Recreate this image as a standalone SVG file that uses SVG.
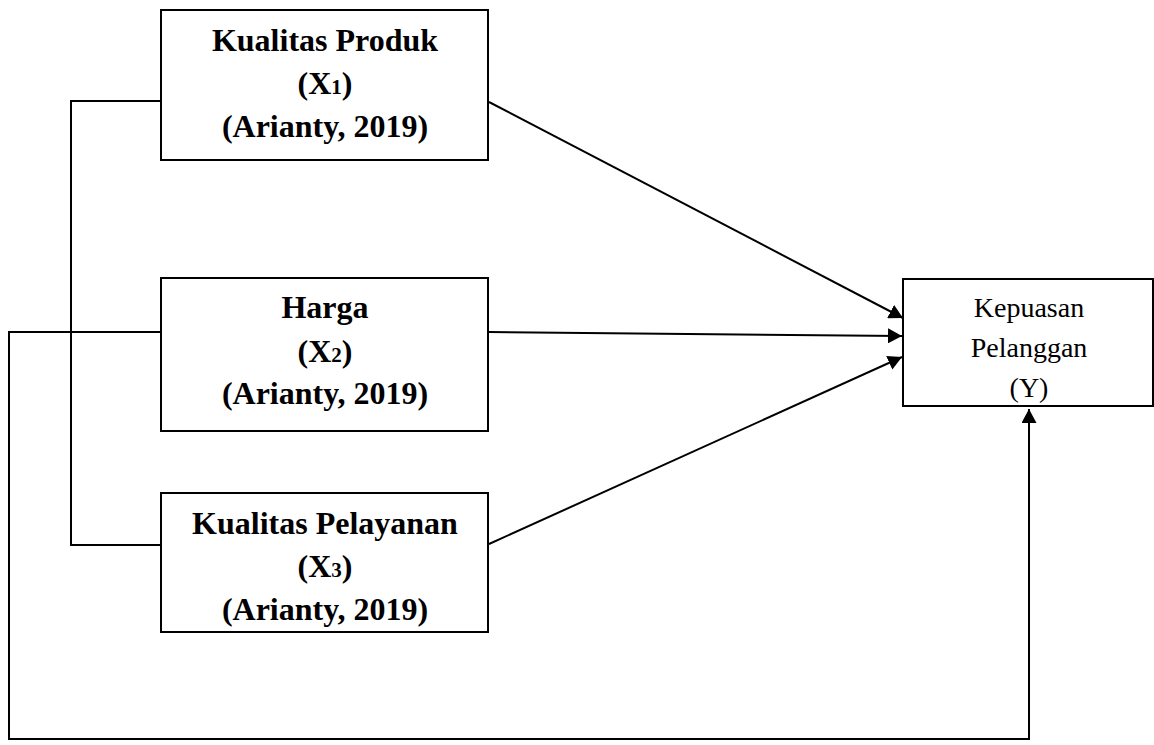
<svg xmlns="http://www.w3.org/2000/svg" width="1154" height="745" viewBox="0 0 1154 745">
<style>
.box{fill:#fff;stroke:#000;stroke-width:2}
.ln{fill:none;stroke:#000;stroke-width:2}
.b{font-family:"Liberation Serif","Times New Roman",serif;font-weight:bold;font-size:32px;text-anchor:middle;fill:#000}
.r{font-family:"Liberation Serif","Times New Roman",serif;font-size:28px;text-anchor:middle;fill:#000}
.sub{font-size:21px}
</style>
<defs>
<marker id="ah" markerUnits="userSpaceOnUse" markerWidth="15" markerHeight="15" refX="14" refY="7.5" orient="auto">
<path d="M0,0 L14,7.5 L0,15 z" fill="#000"/>
</marker>
</defs>
<rect width="1154" height="745" fill="#fff"/>
<g id="connectors">
<polyline class="ln" points="161,101 71,101 71,545 161,545"/>
<line class="ln" x1="71" y1="332" x2="161" y2="332"/>
<polyline class="ln" points="161,332 9,332 9,739 1029,739 1029,409" marker-end="url(#ah)"/>
<line class="ln" x1="489" y1="102" x2="903" y2="318" marker-end="url(#ah)"/>
<line class="ln" x1="489" y1="332" x2="902" y2="336" marker-end="url(#ah)"/>
<line class="ln" x1="489" y1="544" x2="902" y2="357" marker-end="url(#ah)"/>
</g>
<g id="x1">
<rect class="box" x="161" y="10" width="327" height="150"/>
<text class="b" x="325" y="51">Kualitas Produk</text>
<text class="b" x="325" y="94">(X<tspan class="sub">1</tspan>)</text>
<text class="b" x="325" y="137">(Arianty, 2019)</text>
</g>
<g id="x2">
<rect class="box" x="161" y="278" width="327" height="153"/>
<text class="b" x="325" y="318">Harga</text>
<text class="b" x="325" y="362">(X<tspan class="sub">2</tspan>)</text>
<text class="b" x="325" y="404">(Arianty, 2019)</text>
</g>
<g id="x3">
<rect class="box" x="161" y="493" width="327" height="139"/>
<text class="b" x="325" y="534">Kualitas Pelayanan</text>
<text class="b" x="325" y="577">(X<tspan class="sub">3</tspan>)</text>
<text class="b" x="325" y="620">(Arianty, 2019)</text>
</g>
<g id="y">
<rect class="box" x="903" y="279" width="250" height="127"/>
<text class="r" x="1029" y="317">Kepuasan</text>
<text class="r" x="1029" y="357">Pelanggan</text>
<text class="r" x="1029" y="397">(Y)</text>
</g>
</svg>
